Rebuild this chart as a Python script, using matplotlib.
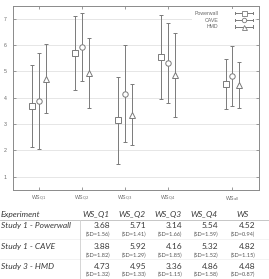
import matplotlib
matplotlib.use('Agg')
import matplotlib.pyplot as plt
import numpy as np
from matplotlib.lines import Line2D
from matplotlib.legend_handler import HandlerBase

# ---------------- data ----------------
measures = ['WS_Q1', 'WS_Q2', 'WS_Q3', 'WS_Q4', 'WS']
tick_labels = [r'WS$_{\rm Q1}$', r'WS$_{\rm Q2}$', r'WS$_{\rm Q3}$', r'WS$_{\rm Q4}$', r'WS$_{\rm all}$']
experiments = ['Study 1 - Powerwall', 'Study 1 - CAVE', 'Study 3 - HMD']
legend_names = ['Powerwall', 'CAVE', 'HMD']
powerwall_mean = [3.68, 5.71, 3.14, 5.54, 4.52]
powerwall_sd = [1.56, 1.41, 1.66, 1.59, 0.94]
cave_mean = [3.88, 5.92, 4.16, 5.32, 4.82]
cave_sd = [1.82, 1.29, 1.85, 1.52, 1.15]
hmd_mean = [4.73, 4.95, 3.36, 4.86, 4.48]
hmd_sd = [1.32, 1.33, 1.15, 1.58, 0.87]

means = [powerwall_mean, cave_mean, hmd_mean]
sds = [powerwall_sd, cave_sd, hmd_sd]
markers = ['s', 'o', '^']

W, H = 269, 279
fig = plt.figure(figsize=(W / 100, H / 100), dpi=100)

def fx(px):
    return px / W

def fy(py):
    return 1 - py / H

ax_l, ax_r, ax_t, ax_b = 12.5, 259.3, 5.5, 190.0
ax = fig.add_axes([fx(ax_l), fy(ax_b), (ax_r - ax_l) / W, (ax_b - ax_t) / H])

x_pos = np.array([1, 2, 3, 4, 5.5])
offsets = [-0.155, 0.0, 0.155]
gray = '#7a7a7a'

for m, s, mk, off in zip(means, sds, markers, offsets):
    ax.errorbar(x_pos + off, m, yerr=s, fmt=mk, color=gray, ecolor=gray,
                elinewidth=0.7, capsize=1.2, capthick=0.7,
                markersize=4.4 if mk != 'o' else 3.9, markerfacecolor='white',
                markeredgecolor=gray, markeredgewidth=0.7, zorder=3)

ax.set_xlim(0.38, 6.13)
ax.set_ylim(0.5, 7.5)
ax.set_yticks([1, 2, 3, 4, 5, 6, 7])
ax.set_xticks(x_pos)
ax.set_xticklabels(tick_labels)
ax.yaxis.grid(True, color='#e2e2e2', linewidth=0.6, zorder=0)
ax.set_axisbelow(True)
for sp in ax.spines.values():
    sp.set_color('#8a8a8a')
    sp.set_linewidth(0.7)
ax.tick_params(axis='both', direction='in', length=2, width=0.6, color='#8a8a8a',
               labelsize=3.8, labelcolor='#6a6a6a', top=True, right=True)
ax.tick_params(axis='y', pad=4)
ax.tick_params(axis='x', pad=3)
for lab in ax.get_xticklabels() + ax.get_yticklabels():
    lab.set_family('Liberation Sans')


class GPHandler(HandlerBase):
    def create_artists(self, legend, orig_handle, xdescent, ydescent, width, height, fontsize, trans):
        y = height / 2 - ydescent
        x0 = -xdescent
        x1 = -xdescent + width
        c = orig_handle.get_color()
        hh = height * 0.35
        arts = [
            Line2D([x0, x1], [y, y], color=c, lw=0.7),
            Line2D([x0, x0], [y - hh, y + hh], color=c, lw=0.7),
            Line2D([x1, x1], [y - hh, y + hh], color=c, lw=0.7),
            Line2D([(x0 + x1) / 2], [y], marker=orig_handle.get_marker(), markersize=orig_handle.get_markersize(),
                   markerfacecolor='white', markeredgecolor=c, markeredgewidth=0.6, linestyle='none'),
        ]
        for a in arts:
            a.set_transform(trans)
        return arts

handles = [Line2D([], [], color=gray, marker=mk, markersize=3.6 if mk != 'o' else 3.2) for mk in markers]
leg = ax.legend(handles, legend_names, handler_map={Line2D: GPHandler()},
                loc='upper right', bbox_to_anchor=(0.995, 0.997), fontsize=3.8,
                markerfirst=False, frameon=True, facecolor='white', edgecolor='none',
                framealpha=1, borderpad=0.4, labelspacing=0.35, handlelength=3.4,
                handletextpad=3.2, prop={'family': 'Liberation Sans', 'size': 3.8})
for t in leg.get_texts():
    t.set_color('#6a6a6a')
leg.get_frame().set_linewidth(0)

# ---------------- table ----------------
tfont = 'Lato'
txt_col = '#3a3a3a'
col_right = [110, 146, 182, 218, 255]
col_center = [96, 132, 168, 204, 243]
header_y = 214.3
row_y = [225.7, 246.7, 266.5]
sd_dy = 8.3
fs_main = 6.0
fs_sd = 4.1

fig.text(fx(1), fy(header_y), 'Experiment', ha='left', va='center', fontsize=fs_main,
         style='italic', family=tfont, color=txt_col)
for cx, name in zip(col_center, measures):
    fig.text(fx(cx), fy(header_y), name, ha='center', va='center', fontsize=fs_main,
             style='italic', family=tfont, color=txt_col)

for ry, exp, m, s in zip(row_y, experiments, means, sds):
    fig.text(fx(1), fy(ry), exp, ha='left', va='center', fontsize=fs_main,
             style='italic', family=tfont, color=txt_col)
    for cr, mv, sv in zip(col_right, m, s):
        fig.text(fx(cr), fy(ry), f'{mv:.2f}', ha='right', va='center', fontsize=fs_main,
                 family=tfont, color=txt_col)
        fig.text(fx(cr), fy(ry + sd_dy), f'(SD={sv:.2f})', ha='right', va='center', fontsize=fs_sd,
                 family=tfont, color='#555555')

fig.add_artist(Line2D([0, 1], [fy(220), fy(220)], color='#bdbdbd', lw=0.6, transform=fig.transFigure))
for yy in [238.5, 258.5]:
    fig.add_artist(Line2D([0, 1], [fy(yy), fy(yy)], color='#eeeeee', lw=0.5, transform=fig.transFigure))
fig.add_artist(Line2D([fx(80), fx(80)], [fy(220), 0], color='#cfcfcf', lw=0.6, transform=fig.transFigure))

fig.savefig('out.png', dpi=100)
